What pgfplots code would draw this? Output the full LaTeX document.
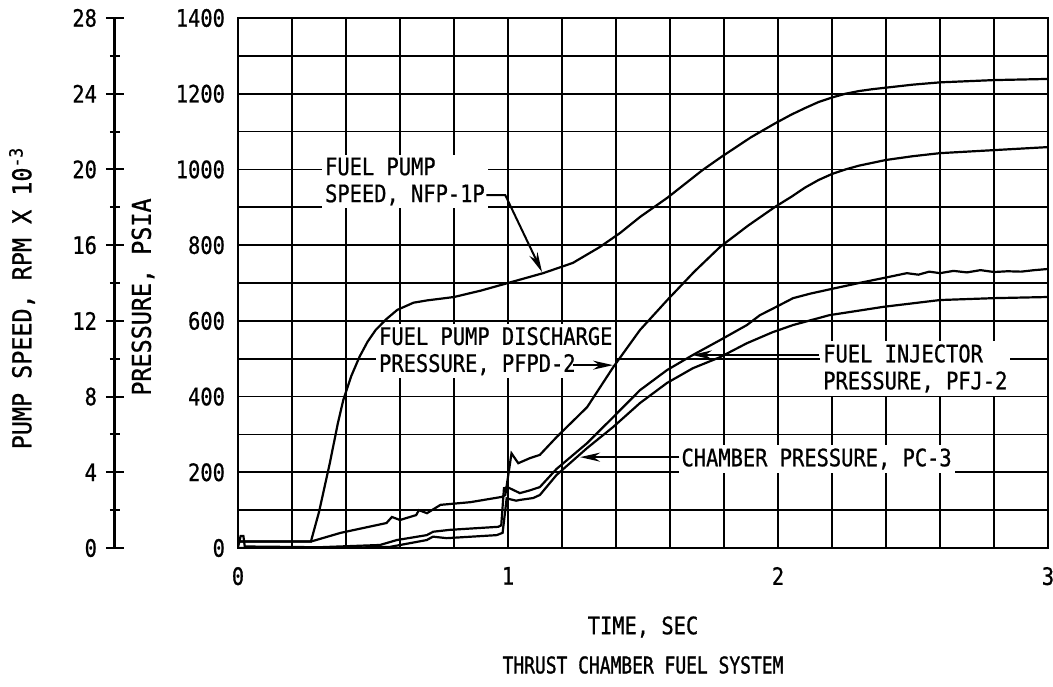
\documentclass[border=0pt]{standalone}
\usepackage{fontspec}
\setmainfont{DejaVu Sans Mono}[FakeStretch=0.85, FakeBold=0.8]
\newfontfamily\labelfont{DejaVu Sans Mono}[FakeStretch=0.9, FakeBold=0.8]
\newfontfamily\titlefont{DejaVu Sans Mono}[FakeStretch=0.78, FakeBold=1.2]
\usepackage{pgfplots}
\pgfplotsset{compat=1.18}
\usetikzlibrary{arrows.meta}
\tikzset{lbl/.style={fill=white, inner sep=1.5pt, align=left, anchor=west,
    font=\fontsize{12}{13.5}\selectfont}}
\pgfplotsset{curve/.style={black, line width=1.1pt, mark=none}}

\begin{document}
\begin{tikzpicture}
% pressure axis with the time grid
\begin{axis}[
  name=main,
  scale only axis, width=405pt, height=265pt,
  xmin=0, xmax=3, ymin=0, ymax=1400,
  xtick={0,1,2,3}, minor x tick num=4,
  ytick={0,200,...,1400}, minor y tick num=1,
  grid=both,
  major grid style={black, line width=0.9pt},
  minor grid style={black, line width=0.9pt},
  axis line style={line width=1.3pt},
  major tick length=0pt, minor tick length=0pt,
  /pgf/number format/assume math mode=true,
  /pgf/number format/1000 sep={},
  tick label style={font=\fontsize{12}{14}\selectfont},
  yticklabel style={xshift=-3pt},
  xticklabel style={yshift=-6pt},
]
% annotation boxes
\node[lbl] at (axis cs:0.31,968) {FUEL PUMP\\SPEED, NFP-1P};
\node[lbl] at (axis cs:0.51,520) {FUEL PUMP DISCHARGE\\PRESSURE, PFPD-2};
\node[lbl] at (axis cs:2.155,474) {FUEL INJECTOR\\PRESSURE, PFJ-2};
\node[lbl] at (axis cs:1.63,235) {CHAMBER PRESSURE, PC-3};

% leaders
\draw[line width=1pt, -{Stealth[length=10pt,width=4.5pt]}]
  (axis cs:0.92,932) -- (axis cs:0.99,932) -- (axis cs:1.126,729);
\draw[line width=1pt, -{Stealth[length=10pt,width=4.5pt]}]
  (axis cs:1.24,483) -- (axis cs:1.389,483);
\draw[line width=1pt, -{Stealth[length=10pt,width=4.5pt]}]
  (axis cs:2.15,510) -- (axis cs:1.681,510);
\draw[line width=1pt, -{Stealth[length=10pt,width=4.5pt]}]
  (axis cs:1.635,240) -- (axis cs:1.267,240);

% fuel pump speed NFP-1P (in pressure units, 28000 rpm = 1400)
\addplot[curve] coordinates {
(0,17) (0.27,17) (0.30,95) (0.34,224) (0.37,330) (0.39,391) (0.42,455)
(0.45,505) (0.48,545) (0.51,576) (0.55,605) (0.59,629) (0.65,648)
(0.70,654) (0.80,663) (0.90,680) (1.00,700) (1.13,726) (1.24,753)
(1.34,795) (1.415,832) (1.49,875) (1.59,925) (1.72,998) (1.79,1033)
(1.90,1085) (1.99,1122) (2.05,1145) (2.10,1162) (2.15,1178) (2.20,1190)
(2.25,1200) (2.30,1207) (2.35,1212) (2.40,1216) (2.50,1224)
(2.60,1230) (2.80,1236) (3.00,1239)
};
% fuel pump discharge pressure PFPD-2
\addplot[curve] coordinates {
(0,17) (0.27,17) (0.38,40) (0.55,66) (0.57,82) (0.60,74) (0.66,87)
(0.67,100) (0.70,92) (0.75,114) (0.86,121) (0.977,135) (0.99,140)
(1.013,250) (1.038,224) (1.08,237) (1.118,246) (1.18,293) (1.293,372)
(1.39,478) (1.489,576) (1.59,655) (1.69,730) (1.785,795) (1.89,852)
(1.989,901) (2.05,928) (2.10,952) (2.15,972) (2.20,988) (2.25,1000)
(2.30,1010) (2.40,1025) (2.50,1035) (2.60,1043) (2.80,1051) (3.00,1059)
};
% fuel injector pressure PFJ-2
\addplot[curve] coordinates {
(0,2) (0.01,32) (0.02,32) (0.025,4) (0.30,2) (0.526,8) (0.588,21)
(0.699,34) (0.723,43) (0.785,48) (0.964,56) (0.975,60) (0.985,158)
(1.00,160) (1.044,145) (1.08,152) (1.118,161) (1.18,209) (1.293,277)
(1.39,346) (1.489,417) (1.589,470) (1.685,510) (1.785,549) (1.885,589)
(1.933,615) (1.98,632) (2.056,660) (2.12,672) (2.19,683) (2.30,700) (2.39,713)
(2.477,726) (2.52,722) (2.56,730) (2.60,726) (2.65,732) (2.70,728)
(2.75,734) (2.80,729) (2.85,731) (2.90,730) (2.95,734) (3.00,737)
};
% chamber pressure PC-3
\addplot[curve] coordinates {
(0,0) (0.35,0) (0.563,3) (0.699,21) (0.722,30) (0.773,26) (0.958,34)
(0.98,40) (0.995,131) (1.03,125) (1.044,127) (1.093,132) (1.118,140)
(1.18,193) (1.293,264) (1.39,320) (1.489,383) (1.589,436) (1.685,475)
(1.785,504) (1.885,541) (1.98,570) (2.056,589) (2.19,615) (2.39,637)
(2.60,655) (2.80,660) (3.00,663)
};
\end{axis}

% pump speed scale
\begin{axis}[
  at={(main.south west)}, anchor=south west, xshift=-61.5pt,
  scale only axis, width=10pt, height=265pt,
  xmin=0, xmax=1, ymin=0, ymax=28,
  axis x line=none, axis y line*=left,
  ytick={0,4,...,28}, minor y tick num=1,
  tick align=center, major tick length=9pt, minor tick length=5pt,
  every tick/.style={black, line width=1pt},
  axis line style={line width=1.5pt},
  /pgf/number format/assume math mode=true,
  yticklabel style={font=\fontsize{12}{14}\selectfont, xshift=-1pt},
]
\addplot[draw=none] coordinates {(0,0) (1,28)};
\end{axis}

\node[rotate=90, font=\labelfont\fontsize{13}{15}\selectfont]
  at ([xshift=-47.5pt,yshift=125.5pt]main.south west) {PRESSURE, PSIA};
\node[rotate=90, font=\labelfont\fontsize{13}{15}\selectfont]
  at ([xshift=-108pt,yshift=125pt]main.south west)
  {PUMP SPEED, RPM X 10\textsuperscript{-3}};
\node[font=\fontsize{12}{14}\selectfont] at ([yshift=-39.5pt]main.south) {TIME, SEC};
\node[font=\titlefont\fontsize{11.5}{13}\selectfont] at ([yshift=-58.5pt]main.south)
  {THRUST CHAMBER FUEL SYSTEM};

\pgfresetboundingbox
\path ([xshift=-119pt,yshift=-69pt]main.south west) rectangle
      ([xshift=2.5pt,yshift=9pt]main.north east);
\end{tikzpicture}
\end{document}
